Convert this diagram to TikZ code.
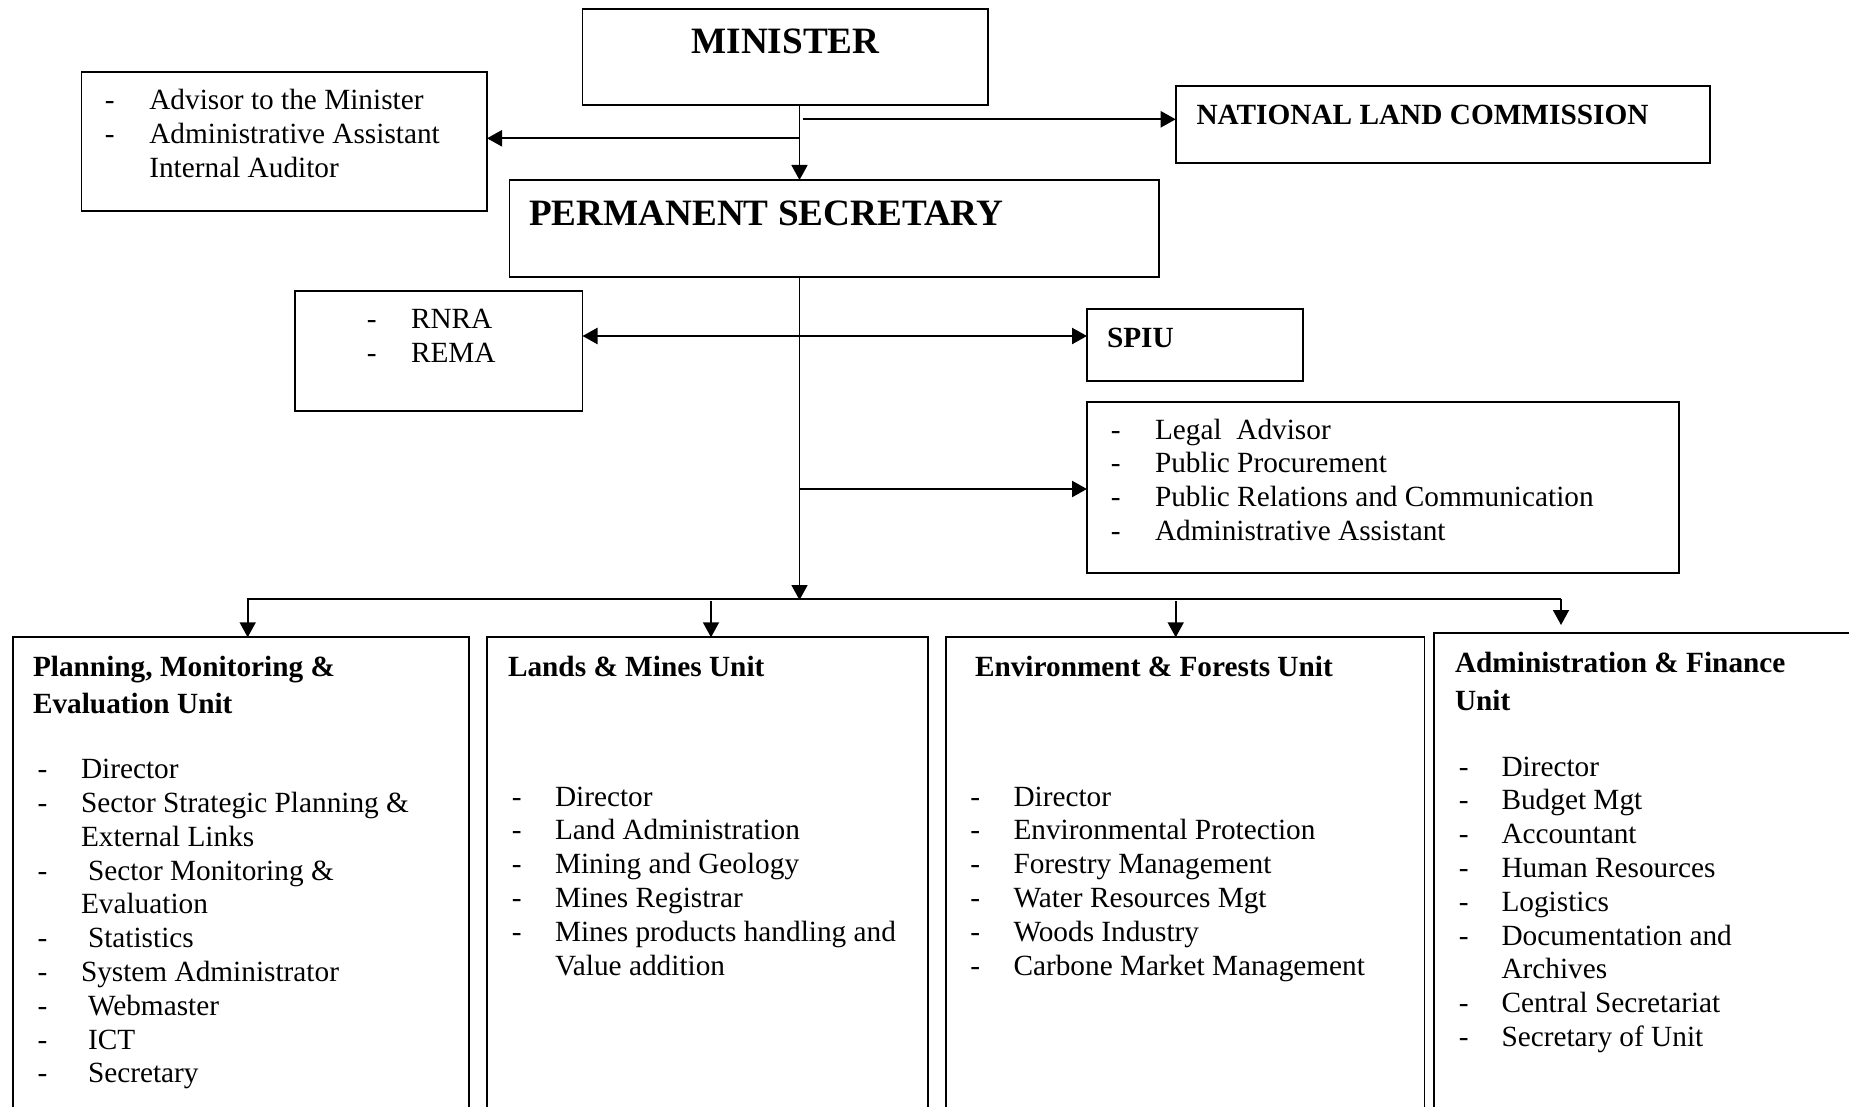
\documentclass[tikz,border=0pt]{standalone}
\usepackage{fontspec}
\setmainfont{Liberation Serif}
\usetikzlibrary{arrows.meta,fit}
\tikzset{
  box/.style={draw, line width=1.8pt, inner sep=0pt, outer sep=0pt},
  txt/.style={font=\fontsize{29.3}{33.8}\selectfont, anchor=base west, inner sep=0pt, outer sep=0pt},
  btxt/.style={font=\fontsize{29.3}{33.8}\selectfont\bfseries, anchor=base west, inner sep=0pt, outer sep=0pt},
  bigtxt/.style={font=\fontsize{37.2}{44}\selectfont\bfseries, inner sep=0pt, outer sep=0pt},
  harrow/.style={line width=2.4pt, -{Triangle[length=15pt,width=16pt]}},
  varrow/.style={line width=1.8pt, -{Triangle[length=15pt,width=16pt]}},
  bus/.style={line width=1.8pt},
}
\begin{document}
\begin{tikzpicture}[x=1pt,y=-1pt]
\useasboundingbox (0,0) rectangle (1849,1107);
% boxes
\node[box, fit={(582.5,9.4) (988,105)}] (min) {};
\node[box, fit={(81.4,71.7) (487,211)}] (adv) {};
\node[box, fit={(1175.7,86) (1710,163)}] (nlc) {};
\node[box, fit={(509.4,180) (1159,276.7)}] (ps) {};
\node[box, fit={(294.8,290.7) (582.5,411.3)}] (rnra) {};
\node[box, fit={(1087,309) (1303,381.3)}] (spiu) {};
\node[box, fit={(1087,401.7) (1679,572.7)}] (legal) {};
\node[box, fit={(13,637.3) (469,1125)}] (u1) {};
\node[box, fit={(487,637.3) (928,1125)}] (u2) {};
\node[box, fit={(945.7,637.3) (1424.5,1125)}] (u3) {};
\node[box, fit={(1434,633.3) (1870,1125)}] (u4) {};
% coordinates for connectors
\coordinate (spine) at (799.5,105);
\coordinate (nlcstart) at (802.7,119.3);
\coordinate (advstart) at (799.5,138.3);
\coordinate (dbl) at (700,336);
\coordinate (legstart) at (799.5,489);
\coordinate (busmid) at (799.5,600);
\coordinate (busL) at (246.5,599);
\coordinate (busR) at (1561,599);
\coordinate (d1) at (247.7,599);
\coordinate (d2) at (711,601);
\coordinate (d3) at (1175.7,601);
\coordinate (d4) at (1561,599);
\coordinate (t4) at (1561,625);
% connectors
\draw[varrow] (min.south -| spine) -- (ps.north -| spine);
\draw[harrow] (nlcstart) -- (nlc.west |- nlcstart);
\draw[harrow] (advstart) -- (adv.east |- advstart);
\draw[line width=2.4pt, {Triangle[length=15pt,width=16pt]}-{Triangle[length=15pt,width=16pt]}] (rnra.east |- dbl) -- (spiu.west |- dbl);
\draw[harrow] (legstart) -- (legal.west |- legstart);
\draw[varrow] (ps.south -| spine) -- (busmid);
\draw[bus] (busL) -- (busR);
\draw[varrow] (d1) -- (u1.north -| d1);
\draw[varrow] (d2) -- (u2.north -| d2);
\draw[varrow] (d3) -- (u3.north -| d3);
\draw[varrow] (d4) -- (t4);
% top texts
\node[bigtxt, anchor=base] (mint) at (785.5,53.3) {MINISTER};
\node[bigtxt, anchor=base west] (pst) at (529,226) {PERMANENT SECRETARY};
\node[btxt] (nlct) at (1196.5,124.5) {NATIONAL LAND COMMISSION};
\node[btxt] (spiut) at (1107,347) {SPIU};
% advisor box
\node[txt] (adv1d) at (104.8,109.3) {-};
\node[txt] (adv1) at (149.3,109.3) {Advisor to the Minister};
\node[txt] (adv2d) at (104.8,143.5) {-};
\node[txt] (adv2) at (149.3,143.5) {Administrative Assistant};
\node[txt] (adv3) at (149.3,177.7) {Internal Auditor};
% rnra box
\node[txt] (rn1d) at (366.8,328) {-};
\node[txt] (rn1) at (411,328) {RNRA};
\node[txt] (rn2d) at (366.8,362.5) {-};
\node[txt] (rn2) at (411,362.5) {REMA};
% legal box
\foreach [count=\k from 0] \t in {Legal\ \ Advisor, Public Procurement, Public Relations and Communication, Administrative Assistant}{
  \node[txt] (lgd\k) at (1110.8,439+33.8*\k) {-};
  \node[txt] (lg\k) at (1155,439+33.8*\k) {\t};
}
% unit titles
\node[btxt] (u1t1) at (33,676) {Planning, Monitoring \&};
\node[btxt] (u1t2) at (33,713.7) {Evaluation Unit};
\node[btxt] (u2t) at (508,676) {Lands \& Mines Unit};
\node[btxt] (u3t) at (975,676) {Environment \& Forests Unit};
\node[btxt] (u4t1) at (1455,672.5) {Administration \& Finance};
\node[btxt] (u4t2) at (1455,710.5) {Unit};
% unit 1 items
\foreach [count=\k from 0] \d/\xx/\t in {1/81/Director, 1/81/{Sector Strategic Planning \&}, 0/81/{External Links}, 1/88/{Sector Monitoring \&}, 0/81/Evaluation, 1/88/Statistics, 1/81/{System Administrator}, 1/88/Webmaster, 1/88/ICT, 1/88/Secretary}{
  \node[txt] (ua\k) at (\xx,778.7+33.8*\k) {\t};
  \ifnum\d=1 \node[txt] (uad\k) at (37.7,778.7+33.8*\k) {-};\fi
}
% unit 2 items
\foreach [count=\k from 0] \d/\t in {1/Director, 1/{Land Administration}, 1/{Mining and Geology}, 1/{Mines Registrar}, 1/{Mines products handling and}, 0/{Value addition}}{
  \node[txt] (ub\k) at (555,806+33.8*\k) {\t};
  \ifnum\d=1 \node[txt] (ubd\k) at (511.8,806+33.8*\k) {-};\fi
}
% unit 3 items
\foreach [count=\k from 0] \t in {Director, Environmental Protection, Forestry Management, Water Resources Mgt, Woods Industry, Carbone Market Management}{
  \node[txt] (uc\k) at (1013.5,806+33.8*\k) {\t};
  \node[txt] (ucd\k) at (970.4,806+33.8*\k) {-};
}
% unit 4 items
\foreach [count=\k from 0] \d/\t in {1/Director, 1/{Budget Mgt}, 1/Accountant, 1/{Human Resources}, 1/Logistics, 1/{Documentation and}, 0/Archives, 1/{Central Secretariat}, 1/{Secretary of Unit}}{
  \node[txt] (ud\k) at (1501.5,776+33.8*\k) {\t};
  \ifnum\d=1 \node[txt] (udd\k) at (1458.8,776+33.8*\k) {-};\fi
}
\end{tikzpicture}
\end{document}
